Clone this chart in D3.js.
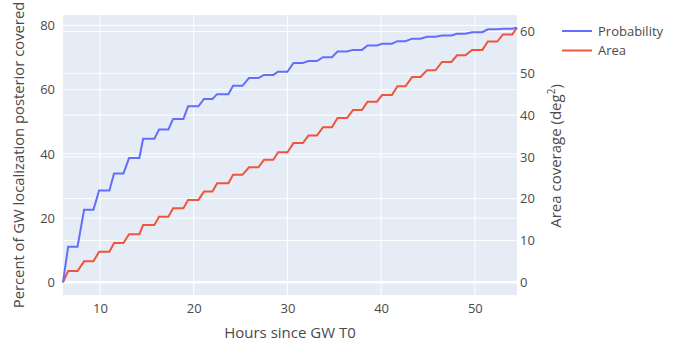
<!DOCTYPE html>
<html>
<head>
<meta charset="utf-8">
<script src="https://cdn.jsdelivr.net/npm/d3@7"></script>
<style>
  body { margin: 0; background: #fff; }
  svg, svg text { font-family: "Open Sans", verdana, arial, sans-serif; }
</style>
</head>
<body>
<script>
// step schedule: each step ramps from riseStart to riseEnd (hours)
const riseStart = [6.05, 7.6, 9.3, 11.0, 12.5, 14.2, 15.8, 17.3, 18.9, 20.5, 22.0, 23.7, 25.2, 26.9, 28.5,
  30.0, 31.65, 33.15, 34.75, 36.35, 37.95, 39.55, 41.15, 42.6, 44.2, 45.8, 47.5, 49.0, 50.8, 52.4, 54.0]
const riseEnd = [6.6, 8.3, 9.9, 11.5, 13.1, 14.6, 16.3, 17.8, 19.4, 21.1, 22.5, 24.2, 25.9, 27.5, 29.0,
  30.65, 32.25, 33.8, 35.35, 37.0, 38.55, 40.1, 41.75, 43.3, 44.9, 46.5, 48.1, 49.7, 51.4, 53.0, 54.5]
// value reached after each step
const probability = [11.1, 22.6, 28.6, 33.9, 38.7, 44.7, 47.6, 50.9, 54.8, 57.1, 58.6, 61.2, 63.6, 64.6, 65.6,
  68.3, 68.9, 70.1, 71.9, 72.4, 73.8, 74.3, 75.1, 75.9, 76.5, 76.9, 77.4, 77.9, 78.8, 79.0, 79.3]
const area = [2.7, 5.0, 7.3, 9.4, 11.5, 13.7, 15.7, 17.7, 19.7, 21.7, 23.7, 25.7, 27.5, 29.3, 31.1,
  33.3, 35.1, 37.1, 39.3, 41.2, 43.2, 44.8, 46.9, 49.1, 50.7, 52.7, 54.3, 55.6, 57.6, 59.3, 60.9]

const leftTicks = [0, 20, 40, 60, 80]
const rightTicks = [0, 10, 20, 30, 40, 50, 60]
const xTicks = [10, 20, 30, 40, 50]

const width = 675
const height = 345
const margin = { top: 15, right: 158, bottom: 50, left: 63 }
const innerWidth = width - margin.left - margin.right
const innerHeight = height - margin.top - margin.bottom

const colors = { prob: '#636efa', area: '#ef553b' }
const tickColor = '#4a4a4a'

// vertices: start at 0, then rise end / plateau end for each step
const points = [{ t: riseStart[0], p: 0, a: 0 }]
riseEnd.forEach((t, i) => {
  points.push({ t, p: probability[i], a: area[i] })
  if (i + 1 < riseStart.length) points.push({ t: riseStart[i + 1], p: probability[i], a: area[i] })
})

const x = d3.scaleLinear()
  .domain([riseStart[0], riseEnd[riseEnd.length - 1]])
  .range([0, innerWidth])

// plotly style 5% padding
const padP = (d3.max(probability) - 0) * 0.05
const padA = (d3.max(area) - 0) * 0.05
const yLeft = d3.scaleLinear().domain([-padP, d3.max(probability) + padP]).range([innerHeight, 0])
const yRight = d3.scaleLinear().domain([-padA, d3.max(area) + padA]).range([innerHeight, 0])

const svg = d3.select('body').append('svg')
  .attr('width', width)
  .attr('height', height)

const main = svg.append('g')
  .attr('transform', `translate(${margin.left}, ${margin.top})`)

main.append('rect')
  .attr('width', innerWidth)
  .attr('height', innerHeight)
  .attr('fill', '#e5ecf6')

//grid
const grid = main.append('g')
grid.selectAll('.gx').data(xTicks).enter().append('line')
  .attr('x1', d => x(d)).attr('x2', d => x(d))
  .attr('y1', 0).attr('y2', innerHeight)
  .attr('stroke', '#fff').attr('stroke-width', 1)
grid.selectAll('.gl').data(leftTicks).enter().append('line')
  .attr('x1', 0).attr('x2', innerWidth)
  .attr('y1', d => yLeft(d)).attr('y2', d => yLeft(d))
  .attr('stroke', '#fff').attr('stroke-width', d => d === 0 ? 2 : 1)
grid.selectAll('.gr').data(rightTicks).enter().append('line')
  .attr('x1', 0).attr('x2', innerWidth)
  .attr('y1', d => yRight(d)).attr('y2', d => yRight(d))
  .attr('stroke', '#fff').attr('stroke-width', d => d === 0 ? 2 : 1)

//axes
const xAxis = main.append('g')
  .attr('transform', `translate(0, ${innerHeight})`)
  .call(d3.axisBottom(x).tickValues(xTicks).tickSize(0).tickPadding(9))
const leftAxis = main.append('g')
  .call(d3.axisLeft(yLeft).tickValues(leftTicks).tickSize(0).tickPadding(8))
const rightAxis = main.append('g')
  .attr('transform', `translate(${innerWidth}, 0)`)
  .call(d3.axisRight(yRight).tickValues(rightTicks).tickSize(0).tickPadding(3))

;[xAxis, leftAxis, rightAxis].forEach(a => {
  a.attr('font-family', null).attr('font-size', null)
  a.select('.domain').remove()
  a.selectAll('text').attr('fill', tickColor).style('font-size', '13px')
})

//lines
main.append('path')
  .datum(points)
  .attr('fill', 'none')
  .attr('stroke', colors.area)
  .attr('stroke-width', 2)
  .attr('d', d3.line().x(d => x(d.t)).y(d => yRight(d.a)))

main.append('path')
  .datum(points)
  .attr('fill', 'none')
  .attr('stroke', colors.prob)
  .attr('stroke-width', 2)
  .attr('d', d3.line().x(d => x(d.t)).y(d => yLeft(d.p)))

//titles
svg.append('text')
  .attr('x', margin.left + innerWidth / 2)
  .attr('y', 338)
  .attr('text-anchor', 'middle')
  .attr('fill', tickColor)
  .style('font-size', '15px')
  .text('Hours since GW T0')

svg.append('text')
  .attr('transform', `translate(24, ${margin.top + innerHeight / 2}) rotate(-90)`)
  .attr('text-anchor', 'middle')
  .attr('fill', tickColor)
  .style('font-size', '14.8px')
  .text('Percent of GW localization posterior covered')

const rt = svg.append('text')
  .attr('transform', `translate(561, ${margin.top + innerHeight / 2 + 1}) rotate(-90)`)
  .attr('text-anchor', 'middle')
  .attr('fill', tickColor)
  .style('font-size', '15px')
rt.append('tspan').text('Area coverage (deg')
rt.append('tspan').attr('dy', -6).style('font-size', '10px').text('2')
rt.append('tspan').attr('dy', 6).text(')')

//legend
const legend = svg.append('g')
  .attr('transform', 'translate(562, 31)')
const items = [{ name: 'Probability', color: colors.prob }, { name: 'Area', color: colors.area }]
const li = legend.selectAll('g').data(items).enter().append('g')
  .attr('transform', (d, i) => `translate(0, ${i * 19.5})`)
li.append('line')
  .attr('x1', 0).attr('x2', 30)
  .attr('stroke', d => d.color).attr('stroke-width', 2)
li.append('text')
  .attr('x', 36)
  .attr('dy', '0.35em')
  .attr('fill', tickColor)
  .style('font-size', '13px')
  .text(d => d.name)
</script>
</body>
</html>
